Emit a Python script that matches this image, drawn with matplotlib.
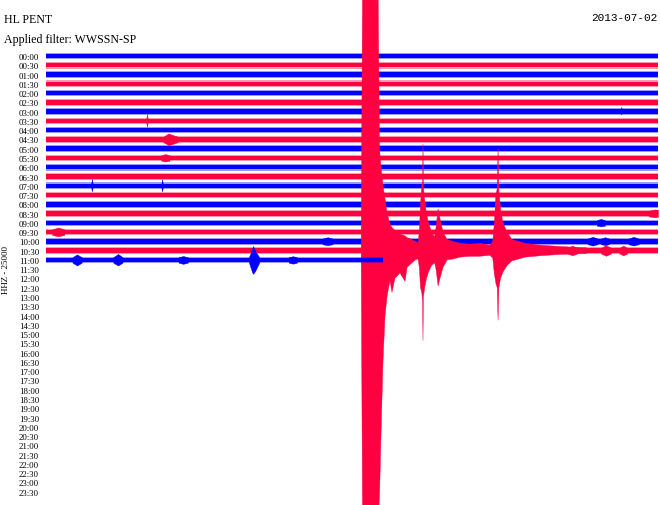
import matplotlib
matplotlib.use("Agg")
import matplotlib.pyplot as plt

# ---------------- data ----------------
station = "HL PENT"
filter_text = "Applied filter: WWSSN-SP"
date_text = "2013-07-02"
side_label = "HHZ - 25000"

# helicorder rows: 30-minute lines, labelled 00:00 ... 23:30
row_labels = [f"{h:02d}:{m:02d}" for h in range(24) for m in (0, 30)]
# rows that carry data (index into row_labels) and the minute where each ends
data_rows = list(range(23))
row_end_minute = [30.0] * 22 + [16.5]
row_colors = ["#0000ff" if i % 2 == 0 else "#ff0040" for i in data_rows]

# background noise half-width (in row spacings)
noise_core = 0.24
noise_edge = 0.36

# events: row -> list of envelope knots (minute, amplitude up, amplitude down),
# amplitudes in row spacings
events = {
    6:  [[(28.15, 0.0, 0.0), (28.2, 0.5, 0.3), (28.25, 0.0, 0.0)]],
    7:  [[(4.9, 0.0, 0.0), (4.95, 0.8, 0.65), (5.0, 0.0, 0.0)]],
    9:  [[(5.75, 0.3, 0.3), (6.0, 0.65, 0.6), (6.12, 0.55, 0.55), (6.45, 0.3, 0.3)]],
    11: [[(5.65, 0.3, 0.3), (5.85, 0.42, 0.38), (6.05, 0.3, 0.3)]],
    14: [[(2.2, 0.0, 0.0), (2.25, 0.75, 0.6), (2.3, 0.0, 0.0)],
         [(5.64, 0.0, 0.0), (5.69, 0.7, 0.6), (5.74, 0.0, 0.0)]],
    17: [[(29.55, 0.3, 0.3), (29.85, 0.45, 0.4), (30.0, 0.4, 0.35)]],
    18: [[(27.0, 0.3, 0.3), (27.2, 0.42, 0.38), (27.4, 0.3, 0.3)]],
    19: [[(0.3, 0.3, 0.3), (0.6, 0.5, 0.45), (0.9, 0.3, 0.3)]],
    20: [[(13.55, 0.3, 0.3), (13.8, 0.45, 0.42), (14.05, 0.3, 0.3)],
         [(26.55, 0.3, 0.3), (26.8, 0.5, 0.45), (27.05, 0.3, 0.3)],
         [(27.2, 0.3, 0.3), (27.4, 0.45, 0.4), (27.6, 0.3, 0.3)],
         [(28.55, 0.3, 0.3), (28.8, 0.5, 0.45), (29.05, 0.3, 0.3)]],
    21: [[(25.55, 0.3, 0.3), (25.8, 0.55, 0.5), (26.05, 0.3, 0.3)],
         [(27.2, 0.3, 0.3), (27.45, 0.6, 0.55), (27.7, 0.3, 0.3)],
         [(28.1, 0.3, 0.3), (28.3, 0.55, 0.5), (28.5, 0.3, 0.3)],
         # main earthquake and aftershocks
         [(15.45, 0.3, 0.3), (15.52, 30.0, 30.0), (16.27, 30.0, 30.0),
          (16.35, 11.0, 26.4), (16.42, 9.0, 20.0), (16.52, 7.0, 11.9),
          (16.62, 5.6, 7.0), (16.72, 4.0, 4.9), (16.86, 2.9, 3.2),
          (16.96, 2.5, 4.5), (17.1, 2.2, 3.0), (17.35, 1.8, 2.4),
          (17.6, 1.6, 3.3), (17.7, 1.4, 1.8), (17.84, 1.3, 1.5),
          (18.1, 1.0, 1.0), (18.24, 0.9, 0.9), (18.3, 2.0, 1.8),
          (18.36, 5.0, 4.0), (18.42, 7.0, 4.5), (18.46, 7.5, 5.5),
          (18.48, 11.5, 9.7), (18.5, 7.0, 5.0), (18.56, 5.5, 4.0),
          (18.65, 4.0, 3.0), (18.75, 3.0, 2.3), (18.9, 2.0, 1.6),
          (19.05, 1.5, 1.3), (19.12, 2.5, 2.0), (19.22, 4.5, 3.8),
          (19.31, 3.5, 3.0), (19.46, 2.0, 1.8), (19.66, 1.2, 1.0),
          (19.95, 1.0, 0.9), (20.29, 0.8, 0.7), (20.78, 0.7, 0.6),
          (21.27, 0.8, 0.6), (21.76, 0.6, 0.5), (21.9, 1.0, 0.8),
          (21.98, 3.0, 2.5), (22.05, 6.0, 3.5), (22.12, 6.7, 4.0),
          (22.16, 11.0, 7.5), (22.2, 6.5, 4.0), (22.28, 4.5, 3.0),
          (22.4, 3.0, 2.3), (22.6, 2.0, 1.6), (22.84, 1.2, 1.1),
          (23.48, 0.8, 0.7), (24.2, 0.6, 0.55), (25.2, 0.45, 0.4),
          (26.5, 0.3, 0.3)]],
    22: [[(1.3, 0.3, 0.3), (1.52, 0.6, 0.6), (1.75, 0.3, 0.3)],
         [(3.3, 0.3, 0.3), (3.53, 0.65, 0.6), (3.75, 0.3, 0.3)],
         [(6.5, 0.3, 0.3), (6.72, 0.42, 0.42), (6.95, 0.3, 0.3)],
         [(9.95, 0.3, 0.3), (10.1, 1.2, 1.3), (10.15, 1.5, 1.5), (10.25, 1.0, 1.2),
          (10.45, 0.3, 0.3)],
         [(11.9, 0.3, 0.3), (12.1, 0.4, 0.4), (12.3, 0.3, 0.3)]],
}

# ---------------- figure ----------------
W, H, DPI = 660, 506, 100
row_px = 9.27           # pixel spacing of rows
first_row_px = 57.0     # pixel y of row 0
left_px, right_px = 46.0, 658.0

fig = plt.figure(figsize=(W / DPI, H / DPI), dpi=DPI)
fig.patch.set_facecolor("white")
ax = fig.add_axes([left_px / W, 0.0, (right_px - left_px) / W, 1.0])
ax.set_xlim(0, 30)
ax.set_ylim((H - first_row_px) / row_px, -first_row_px / row_px)
for s in ax.spines.values():
    s.set_visible(False)
ax.set_xticks([])
ax.set_yticks(range(len(row_labels)))
ax.set_yticklabels(row_labels, fontfamily="Liberation Serif", fontsize=6.3)
ax.tick_params(axis="y", length=0, pad=5)


def draw_row(i):
    c = row_colors[i]
    end = row_end_minute[i]
    z = 3 if i == 22 else (2 if i == 21 else 1)
    ax.fill_between([0, end], [i - noise_edge] * 2, [i + noise_edge] * 2,
                    color=c, alpha=0.4, lw=0, zorder=z)
    ax.fill_between([0, end], [i - noise_core] * 2, [i + noise_core] * 2,
                    color=c, lw=0, zorder=z)
    for ev in events.get(i, []):
        xs = [k[0] for k in ev]
        up = [i - k[1] for k in ev]
        dn = [i + k[2] for k in ev]
        ax.fill_between(xs, up, dn, color=c, lw=0.3, edgecolor=c, zorder=z)


for i in data_rows:
    draw_row(i)

fig.text(4 / W, 1 - 22.7 / H, station, fontfamily="Liberation Serif",
         fontsize=8.6, va="baseline", ha="left")
fig.text(4 / W, 1 - 43 / H, filter_text, fontfamily="Liberation Serif",
         fontsize=8.6, va="baseline", ha="left")
fig.text(657 / W, 1 - 20.7 / H, date_text, fontfamily="Liberation Mono",
         fontsize=8, va="baseline", ha="right")
fig.text(6 / W, 1 - 270 / H, side_label, fontfamily="Liberation Serif",
         fontsize=6.5, va="center", ha="center", rotation=90)

fig.savefig("out.png", dpi=DPI, facecolor="white")
